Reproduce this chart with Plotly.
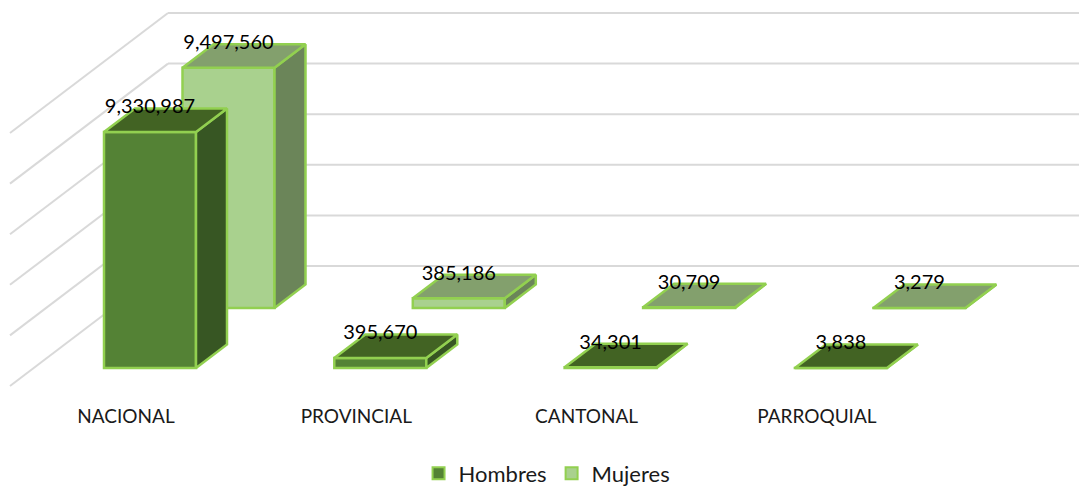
import plotly.graph_objects as go

categories = ["NACIONAL", "PROVINCIAL", "CANTONAL", "PARROQUIAL"]
hombres = [9330987, 395670, 34301, 3838]
mujeres = [9497560, 385186, 30709, 3279]
grid_values = [0, 2000000, 4000000, 6000000, 8000000, 10000000]

# oblique projection constants, in axis units (x: category steps, y: people)
PX_X = 230.3           # pixels per category step
PX_Y = 25.3e-6         # pixels per person
BAR_W = 92 / PX_X
DEPTH_X = 31 / PX_X
DEPTH_Y = 23.5 / PX_Y
ROW_X = 78.5 / PX_X
ROW_Y = 60 / PX_Y
WALL_X = 18 / PX_X
WALL_Y = 102 / PX_Y
FRONT_X = -140 / PX_X
FRONT_Y = -18 / PX_Y
X_RANGE = [-150 / PX_X, 929 / PX_X]
Y_RANGE = [-35 / PX_Y, 368 / PX_Y]
EDGE = "#92D050"
EDGE_W = 2.5
FONT = "Lato, Carlito, Calibri, sans-serif"

series = [
    dict(name="Mujeres", vals=mujeres, row=1, front="#A9D18E", top="#83A06D", side="#6B8559", rank=2),
    dict(name="Hombres", vals=hombres, row=0, front="#548235", top="#426323", side="#375623", rank=1),
]

fig = go.Figure()

# front faces
for s in series:
    n = len(s["vals"])
    fig.add_trace(go.Bar(
        x=[i + s["row"] * ROW_X for i in range(n)],
        y=s["vals"],
        base=[s["row"] * ROW_Y] * n,
        width=BAR_W,
        name=s["name"],
        legendrank=s["rank"],
        marker=dict(color=s["front"], line=dict(color=EDGE, width=EDGE_W)),
        hoverinfo="name+y",
    ))

# side and top faces
for s in series:
    tx, ty, sx, sy = [], [], [], []
    for i, v in enumerate(s["vals"]):
        x0 = i + s["row"] * ROW_X - BAR_W / 2
        x1 = x0 + BAR_W
        b = s["row"] * ROW_Y
        t = b + v
        tx += [x0, x1, x1 + DEPTH_X, x0 + DEPTH_X, x0, None]
        ty += [t, t, t + DEPTH_Y, t + DEPTH_Y, t, None]
        sx += [x1, x1 + DEPTH_X, x1 + DEPTH_X, x1, x1, None]
        sy += [b, b + DEPTH_Y, t + DEPTH_Y, t, b, None]
    for xs, ys, col in ((sx, sy, s["side"]), (tx, ty, s["top"])):
        fig.add_trace(go.Scatter(
            x=xs, y=ys, mode="lines", fill="toself", fillcolor=col,
            line=dict(color=EDGE, width=EDGE_W), showlegend=False, hoverinfo="skip",
        ))

# data labels
for s in series:
    fig.add_trace(go.Scatter(
        x=[i + s["row"] * ROW_X for i in range(len(s["vals"]))],
        y=[s["row"] * ROW_Y + v + DEPTH_Y for v in s["vals"]],
        mode="text",
        text=[f"{v:,}" for v in s["vals"]],
        textposition="middle center",
        textfont=dict(family=FONT, size=20, color="#000000"),
        showlegend=False, hoverinfo="skip",
    ))

# gridlines: back wall and left wall, below the bars
shapes = []
for g in grid_values:
    line = dict(color="#D9D9D9", width=2)
    shapes.append(dict(type="line", xref="x", yref="y", layer="below",
                       x0=WALL_X, y0=WALL_Y + g, x1=X_RANGE[1], y1=WALL_Y + g, line=line))
    shapes.append(dict(type="line", xref="x", yref="y", layer="below",
                       x0=FRONT_X, y0=FRONT_Y + g, x1=WALL_X, y1=WALL_Y + g, line=line))

fig.update_layout(
    width=1079, height=487,
    margin=dict(l=0, r=0, t=0, b=84, autoexpand=False),
    paper_bgcolor="white", plot_bgcolor="white",
    barmode="overlay",
    shapes=shapes,
    xaxis=dict(range=X_RANGE, showgrid=False, zeroline=False, showline=False, ticks="",
               automargin=False,
               tickmode="array", tickvals=[i - 24 / PX_X for i in range(len(categories))],
               ticktext=categories, tickfont=dict(family=FONT, size=19, color="#1A1A1A")),
    yaxis=dict(range=Y_RANGE, showgrid=False, zeroline=False, showline=False, showticklabels=False,
               automargin=False),
    legend=dict(orientation="h", xanchor="center", x=0.507, yanchor="middle", y=-0.175,
                font=dict(family=FONT, size=22, color="#1A1A1A"), itemsizing="constant"),
)

fig.write_html("out.html", config={"displayModeBar": False},
               post_script="document.body.style.margin='0';")
